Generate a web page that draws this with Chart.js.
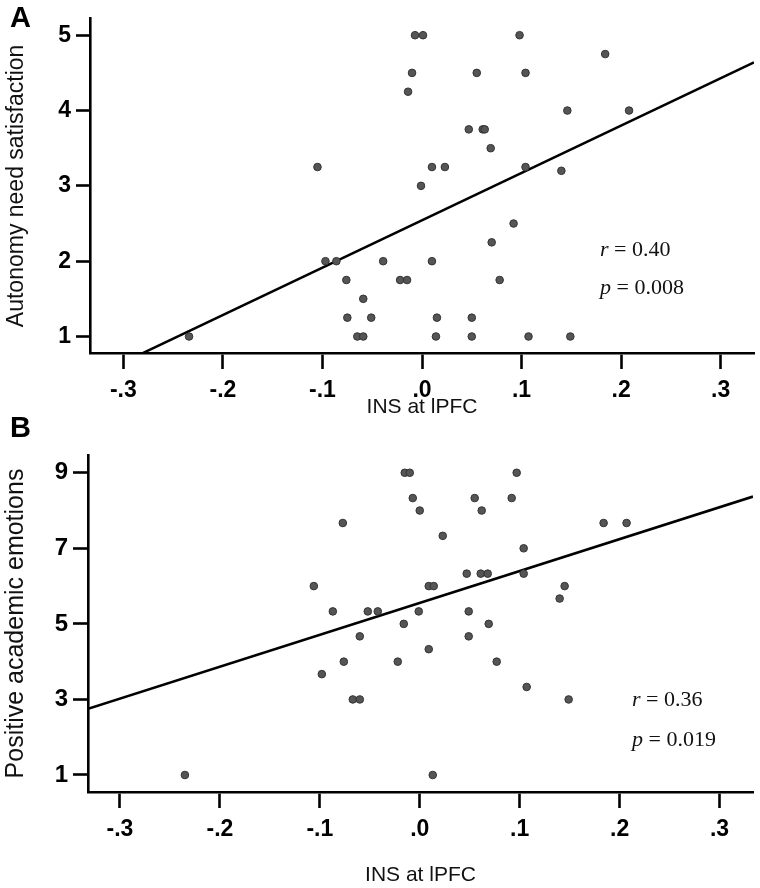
<!DOCTYPE html>
<html>
<head>
<meta charset="utf-8">
<script src="https://cdn.jsdelivr.net/npm/chart.js@4.4.0/dist/chart.umd.min.js"></script>
<style>
  body { margin: 0; background: #fff; }
  #wrap { position: relative; width: 760px; height: 888px; background: #fff; overflow: hidden; }
  canvas { position: absolute; left: 0; }
  #chartA { top: 0; }
  #chartB { top: 430px; }
  .panel { position: absolute; left: 10px; font: bold 29px "Liberation Sans", Arial, sans-serif; line-height: 1; color: #000; }
  .stat { position: absolute; font: 22px "Liberation Serif", "Times New Roman", serif; line-height: 1; color: #111; white-space: nowrap; }
  .stat i { font-style: italic; }
</style>
</head>
<body>
<div id="wrap">
  <canvas id="chartA" width="760" height="430"></canvas>
  <canvas id="chartB" width="760" height="458"></canvas>
  <div class="panel" style="top:3px">A</div>
  <div class="panel" style="top:413px">B</div>
  <div class="stat" style="left:600px; top:238px"><i>r</i> = 0.40</div>
  <div class="stat" style="left:600px; top:276px"><i>p</i> = 0.008</div>
  <div class="stat" style="left:632px; top:688px"><i>r</i> = 0.36</div>
  <div class="stat" style="left:632px; top:728px"><i>p</i> = 0.019</div>
</div>
<script>
// shared x axis (INS at lPFC)
const xTicks = [-0.3, -0.2, -0.1, 0, 0.1, 0.2, 0.3];
const xTickLabels = ['-.3', '-.2', '-.1', '.0', '.1', '.2', '.3'];

// panel A: autonomy need satisfaction
const insA = [-0.007, 0.001, 0.098, 0.184, -0.010, 0.055, 0.104, -0.014, 0.146, 0.208,
  0.047, 0.061, 0.063, 0.069, 0.010, 0.023, 0.104, 0.140, -0.001, -0.105,
  -0.097, -0.086, -0.076, -0.059, -0.075, -0.051, -0.065, -0.059, -0.234, -0.039,
  0.010, 0.092, 0.070, -0.022, -0.015, 0.078, 0.015, 0.050, 0.014, 0.050, 0.107, 0.149];
const autonomy = [5, 5, 5, 4.75, 4.5, 4.5, 4.5, 4.25, 4, 4,
  3.75, 3.75, 3.75, 3.5, 3.25, 3.25, 3.25, 3.2, 3, 3.25,
  2, 2, 1.75, 1.5, 1.25, 1.25, 1, 1, 1, 2,
  2, 2.5, 2.25, 1.75, 1.75, 1.75, 1.25, 1.25, 1, 1, 1, 1];
const yTicksA = [1, 2, 3, 4, 5];
const fitAx = [-0.2805, 0.3335];
const fitAy = [0.78, 4.64];

// panel B: positive academic emotions
const insB = [-0.015, -0.010, 0.097, -0.007, 0.055, 0.092, 0.000, 0.062, 0.184, 0.207,
  0.023, 0.104, 0.047, 0.061, 0.068, 0.104, 0.009, 0.014, 0.145, 0.140,
  -0.001, 0.049, -0.016, 0.069, 0.049, 0.009, -0.077, -0.106, -0.087, -0.052,
  -0.042, -0.060, -0.076, -0.098, -0.067, -0.060, -0.235, -0.022, 0.077, 0.107, 0.149, 0.013];
const emotions = [9, 9, 9, 8.33, 8.33, 8.33, 8, 8, 7.67, 7.67,
  7.33, 7, 6.33, 6.33, 6.33, 6.33, 6, 6, 6, 5.67,
  5.33, 5.33, 5, 5, 4.67, 4.33, 7.67, 6, 5.33, 5.33,
  5.33, 4.67, 4, 3.67, 3, 3, 1, 4, 4, 3.33, 3, 1];
const yTicksB = [1, 3, 5, 7, 9];
const fitBx = [-0.332, 0.3335];
const fitBy = [2.75, 8.37];

const sans = '"Liberation Sans", Arial, sans-serif';

function toPoints(xs, ys) {
    return xs.map((x, i) => ({ x: x, y: ys[i] }));
}

function makeScatter(id, p) {
    const ctx = document.getElementById(id).getContext('2d');
    return new Chart(ctx, {
        type: 'scatter',
        data: {
            datasets: [{
                data: toPoints(p.xs, p.ys),
                backgroundColor: '#555',
                borderColor: '#333',
                borderWidth: 1,
                pointRadius: 3.8
            }, {
                data: toPoints(p.fitX, p.fitY),
                showLine: true,
                borderColor: '#000',
                borderWidth: 2.6,
                pointRadius: 0
            }]
        },
        options: {
            responsive: false,
            animation: false,
            layout: { padding: { top: p.top, right: p.right, left: 0, bottom: 0 } },
            plugins: { legend: { display: false }, tooltip: { enabled: false } },
            scales: {
                x: {
                    type: 'linear',
                    min: p.xMin, max: p.xMax,
                    afterBuildTicks: axis => { axis.ticks = xTicks.map(v => ({ value: v })); },
                    afterFit: axis => { axis.height = p.xHeight; },
                    grid: { drawOnChartArea: false, tickLength: 16, tickColor: '#000', tickWidth: 2.6 },
                    border: { color: '#000', width: 2.6 },
                    ticks: {
                        autoSkip: false, maxRotation: 0, padding: 8, color: '#000',
                        font: { family: sans, size: 23, weight: 'bold' },
                        callback: (v, i) => xTickLabels[i]
                    },
                    title: {
                        display: true, text: 'INS at lPFC', color: '#111',
                        font: { family: sans, size: 21 },
                        padding: { top: 0, bottom: p.xTitlePad }
                    }
                },
                y: {
                    type: 'linear',
                    min: p.yMin, max: p.yMax,
                    afterBuildTicks: axis => { axis.ticks = p.yTicks.map(v => ({ value: v })); },
                    afterFit: axis => { axis.width = p.left; },
                    grid: { drawOnChartArea: false, tickLength: p.yTickLen, tickColor: '#000', tickWidth: 2.6 },
                    border: { color: '#000', width: 2.6 },
                    ticks: {
                        autoSkip: false, padding: 5, color: '#000',
                        font: { family: sans, size: p.yTickSize, weight: 'bold' }
                    },
                    title: {
                        display: true, text: p.yTitle, color: '#111',
                        font: { family: sans, size: p.yTitleSize },
                        padding: { top: p.yTitlePad, bottom: 0 }
                    }
                }
            }
        }
    });
}

makeScatter('chartA', {
    xs: insA, ys: autonomy, fitX: fitAx, fitY: fitAy, yTicks: yTicksA,
    xMin: -0.3335, xMax: 0.3335, yMin: 0.781, yMax: 5.218,
    top: 17, right: 6, left: 90, xHeight: 77, xTitlePad: 10,
    yTickLen: 14, yTickSize: 23,
    yTitle: 'Autonomy need satisfaction', yTitleSize: 23, yTitlePad: 3
});

makeScatter('chartB', {
    xs: insB, ys: emotions, fitX: fitBx, fitY: fitBy, yTicks: yTicksB,
    xMin: -0.332, xMax: 0.3335, yMin: 0.55, yMax: 9.47,
    top: 25, right: 7, left: 88, xHeight: 96, xTitlePad: 0,
    yTickLen: 15, yTickSize: 24,
    yTitle: 'Positive academic emotions', yTitleSize: 25, yTitlePad: 1
});
</script>
</body>
</html>
